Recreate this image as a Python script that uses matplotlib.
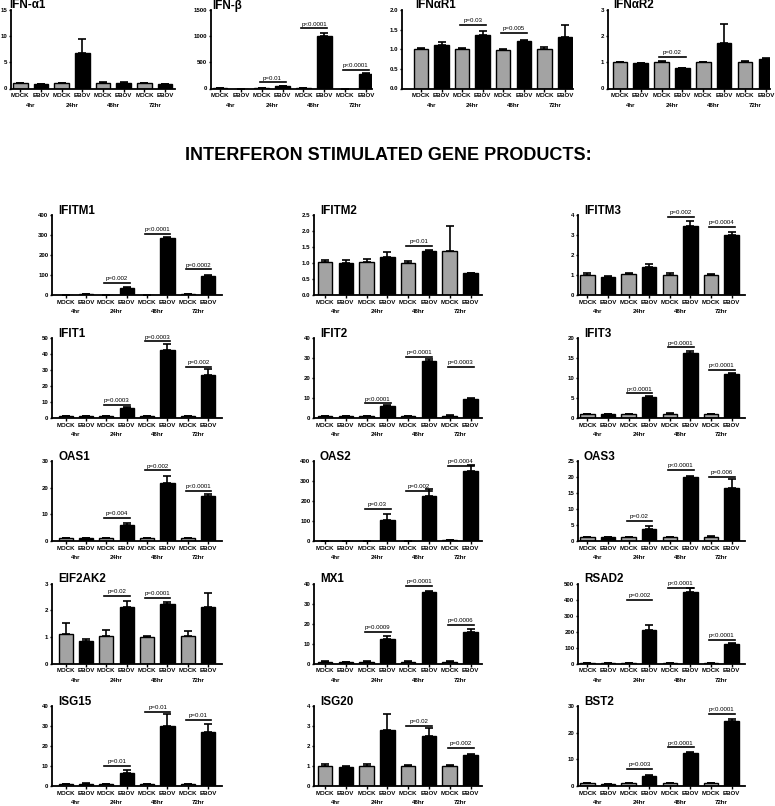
import matplotlib
matplotlib.use("Agg")
import matplotlib.pyplot as plt
from matplotlib import font_manager
import numpy as np

# ---------------- data ----------------
conditions = ["MOCK", "EBOV"] * 4
timepoints = ["4hr", "24hr", "48hr", "72hr"]

ifna1_mean = [1.0, 0.9, 1.0, 6.7, 1.1, 1.1, 1.0, 0.8]
ifna1_err = [0.1, 0.05, 0.1, 2.8, 0.15, 0.1, 0.05, 0.1]
ifna1_p = []

ifnb_mean = [5, 0, 5, 40, 5, 1000, 0, 275]
ifnb_err = [3, 0, 3, 10, 3, 55, 0, 15]
ifnb_p = [(1, 120, "p=0.01"), (2, 1150, "p<0.0001"), (3, 360, "p<0.0001")]

ifnar1_mean = [1.0, 1.1, 1.0, 1.37, 0.99, 1.21, 1.0, 1.32]
ifnar1_err = [0.04, 0.08, 0.02, 0.1, 0.02, 0.03, 0.07, 0.31]
ifnar1_p = [(1, 1.63, "p=0.03"), (2, 1.42, "p=0.005")]

ifnar2_mean = [1.0, 0.97, 1.0, 0.77, 1.0, 1.75, 1.0, 1.12]
ifnar2_err = [0.01, 0.01, 0.05, 0.02, 0.02, 0.72, 0.06, 0.04]
ifnar2_p = [(1, 1.22, "p=0.02")]

ifitm1_mean = [2, 3, 2, 37, 2, 285, 3, 95]
ifitm1_err = [0.5, 0.5, 0.5, 3, 0.5, 3, 0.5, 6]
ifitm1_p = [(1, 60, "p=0.002"), (2, 307, "p<0.0001"), (3, 129, "p=0.0002")]

ifitm2_mean = [1.02, 1.0, 1.02, 1.2, 1.01, 1.38, 1.38, 0.68]
ifitm2_err = [0.06, 0.08, 0.1, 0.13, 0.06, 0.04, 0.78, 0.02]
ifitm2_p = [(2, 1.54, "p=0.01")]

ifitm3_mean = [1.02, 0.9, 1.03, 1.38, 1.02, 3.45, 1.01, 3.0]
ifitm3_err = [0.07, 0.04, 0.07, 0.18, 0.08, 0.25, 0.05, 0.17]
ifitm3_p = [(2, 3.92, "p=0.002"), (3, 3.42, "p=0.0004")]

ifit1_mean = [1, 1, 1, 6.2, 1, 42.5, 1, 27]
ifit1_err = [0.1, 0.1, 0.1, 0.6, 0.1, 3.5, 0.1, 3.5]
ifit1_p = [(1, 8.2, "p=0.0003"), (2, 47.9, "p=0.0003"), (3, 32, "p=0.002")]

ifit2_mean = [1, 1, 1, 6, 1, 28.5, 1.2, 9.5]
ifit2_err = [0.1, 0.1, 0.1, 0.3, 0.1, 0.8, 0.2, 0.4]
ifit2_p = [(1, 7.4, "p<0.0001"), (2, 30.7, "p=0.0001"), (3, 25.7, "p=0.0003")]

ifit3_mean = [1, 0.9, 1, 5.3, 1.1, 16.2, 1, 11]
ifit3_err = [0.05, 0.05, 0.05, 0.2, 0.1, 0.6, 0.05, 0.2]
ifit3_p = [(1, 6.2, "p<0.0001"), (2, 17.7, "p=0.0001"), (3, 12.1, "p<0.0001")]

oas1_mean = [1.0, 1.2, 1.0, 6.0, 1.0, 21.7, 1.0, 16.9]
oas1_err = [0.1, 0.1, 0.1, 0.8, 0.1, 2.6, 0.1, 0.7]
oas1_p = [(1, 8.8, "p=0.004"), (2, 26.5, "p=0.002"), (3, 18.8, "p<0.0001")]

oas2_mean = [2, 2, 2, 105, 2, 225, 3, 350]
oas2_err = [0.5, 0.5, 0.5, 30, 0.5, 35, 0.5, 30]
oas2_p = [(1, 160, "p=0.03"), (2, 250, "p=0.002"), (3, 375, "p=0.0004")]

oas3_mean = [1.2, 1.1, 1.2, 3.8, 1.3, 20.0, 1.3, 16.5]
oas3_err = [0.1, 0.1, 0.1, 0.8, 0.1, 0.3, 0.2, 3.0]
oas3_p = [(1, 6.3, "p=0.02"), (2, 22.3, "p<0.0001"), (3, 20.0, "p=0.006")]

eif2ak2_mean = [1.12, 0.86, 1.05, 2.13, 1.0, 2.22, 1.03, 2.12]
eif2ak2_err = [0.4, 0.05, 0.2, 0.23, 0.03, 0.07, 0.2, 0.52]
eif2ak2_p = [(1, 2.54, "p=0.02"), (2, 2.46, "p=0.0001")]

mx1_mean = [1, 0.8, 1, 12.5, 1, 36, 1, 15.8]
mx1_err = [0.1, 0.1, 0.1, 1.3, 0.1, 0.5, 0.1, 1.3]
mx1_p = [(1, 16, "p=0.0009"), (2, 38.7, "p=0.0001"), (3, 19.4, "p=0.0006")]

rsad2_mean = [2, 2, 2, 210, 2, 450, 2, 120]
rsad2_err = [0.5, 0.5, 0.5, 30, 0.5, 22, 0.5, 8]
rsad2_p = [(1, 400, "p=0.002"), (2, 475, "p<0.0001"), (3, 150, "p<0.0001")]

isg15_mean = [1, 1.2, 1, 6.5, 1, 30, 1, 27]
isg15_err = [0.1, 0.1, 0.1, 1.5, 0.1, 6, 0.1, 4]
isg15_p = [(1, 10, "p=0.01"), (2, 37, "p=0.01"), (3, 33, "p=0.01")]

isg20_mean = [1.0, 0.97, 1.0, 2.8, 1.0, 2.48, 1.0, 1.55]
isg20_err = [0.1, 0.04, 0.1, 0.8, 0.07, 0.4, 0.04, 0.05]
isg20_p = [(2, 3.0, "p=0.02"), (3, 1.9, "p=0.002")]

bst2_mean = [1, 0.8, 1, 3.8, 1, 12.2, 1, 24.5]
bst2_err = [0.1, 0.1, 0.1, 0.3, 0.1, 0.5, 0.1, 0.8]
bst2_p = [(1, 6.5, "p=0.003"), (2, 14.5, "p<0.0001"), (3, 27, "p<0.0001")]

# ---------------- fonts ----------------
available = {f.name for f in font_manager.fontManager.ttflist}
if "Liberation Sans Narrow" in available:
    NARROW = ["Liberation Sans Narrow", "DejaVu Sans"]
    LBL = 5.2
else:
    NARROW = ["Liberation Sans", "DejaVu Sans"]
    LBL = 4.4
SANS = ["Liberation Sans", "DejaVu Sans"]
GRAY = "#a3a3a3"

# ---------------- layout ----------------
W, H = 775, 806
fig = plt.figure(figsize=(W / 100, H / 100), dpi=100)
fig.patch.set_facecolor("white")


def draw(left, right, top, bottom, xl, xr, title, title_x, title_dy, mean, err,
         pvals, ymax, step, fmt):
    ax = fig.add_axes([left / W, 1 - bottom / H, (right - left) / W, (bottom - top) / H])
    x = np.arange(len(mean))
    colors = [GRAY if c == "MOCK" else "black" for c in conditions]
    ax.errorbar(x, mean, yerr=[np.zeros(len(err)), err], fmt="none",
                ecolor="black", elinewidth=1.2, capsize=2.6, capthick=1.2, zorder=1)
    ax.bar(x, mean, width=0.7, color=colors, edgecolor="black", linewidth=1.0, zorder=2)
    ax.set_xlim(xl, xr)
    ax.set_ylim(0, ymax)
    ticks = np.arange(0, ymax + step / 2, step)
    ax.set_yticks(ticks)
    ax.set_yticklabels([fmt.format(t) for t in ticks], fontsize=4.4,
                       fontweight="bold", family=SANS)
    ax.set_xticks(x)
    ax.set_xticklabels(conditions, fontsize=LBL, fontweight="bold", family=NARROW)
    for s in ("top", "right"):
        ax.spines[s].set_visible(False)
    for s in ("left", "bottom"):
        ax.spines[s].set_linewidth(1.3)
    ax.tick_params(axis="y", length=1.8, width=1.0, pad=0.8)
    ax.tick_params(axis="x", length=2.2, width=1.0, pad=1.2)
    for k, tp in enumerate(timepoints):
        ax.annotate(tp, xy=(2 * k + 0.5, 0), xycoords=("data", "axes fraction"),
                    xytext=(0, -12.0), textcoords="offset points", ha="center",
                    va="center", fontsize=LBL, fontweight="bold", family=NARROW)
    for k, h, txt in pvals:
        ax.plot([2 * k - 0.1, 2 * k + 1.15], [h, h], color="black", lw=1.2,
                clip_on=False, zorder=3)
        ax.annotate(txt, xy=(2 * k + 0.52, h), xytext=(0, 1.2),
                    textcoords="offset points", ha="center", va="bottom",
                    fontsize=4.4, family=SANS)
    fig.text(title_x / W, 1 - (top - title_dy) / H, title, ha="left", va="center",
             fontsize=8.4, fontweight="bold", family=SANS)
    return ax


# top row: interferons
top_panels = [
    (11, 175, -0.45, 7.48, "IFN-\u03b11", 9, ifna1_mean, ifna1_err, ifna1_p, 15, 5, "{:.0f}"),
    (211, 372, -0.43, 7.29, "IFN-\u03b2", 212, ifnb_mean, ifnb_err, ifnb_p, 1500, 500, "{:.0f}"),
    (402, 573, -0.92, 7.39, "IFN\u03b1R1", 415, ifnar1_mean, ifnar1_err, ifnar1_p, 2.0, 0.5, "{:.1f}"),
    (608, 770, -0.57, 7.2, "IFN\u03b1R2", 613, ifnar2_mean, ifnar2_err, ifnar2_p, 3, 1, "{:.0f}"),
]
for (l, r, xl, xr, title, tx, m, e, p, ymax, step, fmt) in top_panels:
    draw(l, r, 10, 88.5, xl, xr, title, tx, 4.5, m, e, p, ymax, step, fmt)

fig.text(388 / W, 1 - 155 / H, "INTERFERON STIMULATED GENE PRODUCTS:",
         ha="center", va="center", fontsize=13, fontweight="bold", family=SANS)

# grid of ISGs
cols = [(52, 222, -0.67, 7.68), (314, 482, -0.53, 7.55), (578, 745, -0.46, 7.65)]
rows = [(215, 295), (338, 418), (461, 541), (583.5, 663.5), (706, 786)]
grid = [
    [("IFITM1", ifitm1_mean, ifitm1_err, ifitm1_p, 400, 100, "{:.0f}"),
     ("IFITM2", ifitm2_mean, ifitm2_err, ifitm2_p, 2.5, 0.5, "{:.1f}"),
     ("IFITM3", ifitm3_mean, ifitm3_err, ifitm3_p, 4, 1, "{:.0f}")],
    [("IFIT1", ifit1_mean, ifit1_err, ifit1_p, 50, 10, "{:.0f}"),
     ("IFIT2", ifit2_mean, ifit2_err, ifit2_p, 40, 10, "{:.0f}"),
     ("IFIT3", ifit3_mean, ifit3_err, ifit3_p, 20, 5, "{:.0f}")],
    [("OAS1", oas1_mean, oas1_err, oas1_p, 30, 10, "{:.0f}"),
     ("OAS2", oas2_mean, oas2_err, oas2_p, 400, 100, "{:.0f}"),
     ("OAS3", oas3_mean, oas3_err, oas3_p, 25, 5, "{:.0f}")],
    [("EIF2AK2", eif2ak2_mean, eif2ak2_err, eif2ak2_p, 3, 1, "{:.0f}"),
     ("MX1", mx1_mean, mx1_err, mx1_p, 40, 10, "{:.0f}"),
     ("RSAD2", rsad2_mean, rsad2_err, rsad2_p, 500, 100, "{:.0f}")],
    [("ISG15", isg15_mean, isg15_err, isg15_p, 40, 10, "{:.0f}"),
     ("ISG20", isg20_mean, isg20_err, isg20_p, 4, 1, "{:.0f}"),
     ("BST2", bst2_mean, bst2_err, bst2_p, 30, 10, "{:.0f}")],
]
for (t, b), row in zip(rows, grid):
    for (l, r, xl, xr), (title, m, e, p, ymax, step, fmt) in zip(cols, row):
        draw(l, r, t, b, xl, xr, title, l + 6, 4, m, e, p, ymax, step, fmt)

fig.savefig("out.png", dpi=100, facecolor="white")
